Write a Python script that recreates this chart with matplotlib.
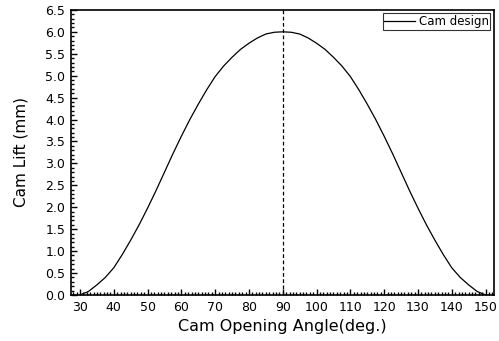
import matplotlib
matplotlib.use("Agg")
import matplotlib.pyplot as plt
from matplotlib.ticker import MultipleLocator

# Cam lift profile (mm) against cam opening angle (deg)
angle = [30, 32.5, 35, 37.5, 40, 42.5, 45, 47.5, 50, 52.5, 55, 57.5, 60,
         62.5, 65, 67.5, 70, 72.5, 75, 77.5, 80, 82.5, 85, 87.5, 90,
         92.5, 95, 97.5, 100, 102.5, 105, 107.5, 110, 112.5, 115, 117.5, 120,
         122.5, 125, 127.5, 130, 132.5, 135, 137.5, 140, 142.5, 145, 147.5, 150]
lift = [0.00, 0.08, 0.23, 0.40, 0.62, 0.92, 1.25, 1.60, 1.98, 2.38, 2.80, 3.22, 3.62,
        4.00, 4.35, 4.68, 4.98, 5.22, 5.42, 5.60, 5.74, 5.86, 5.95, 5.99, 6.00,
        5.99, 5.95, 5.86, 5.74, 5.60, 5.42, 5.22, 4.98, 4.68, 4.35, 4.00, 3.62,
        3.22, 2.80, 2.38, 1.98, 1.60, 1.25, 0.92, 0.62, 0.40, 0.23, 0.08, 0.00]
peak_angle = 90

x_ticks = list(range(30, 151, 10))
y_ticks = [0.0, 0.5, 1.0, 1.5, 2.0, 2.5, 3.0, 3.5, 4.0, 4.5, 5.0, 5.5, 6.0, 6.5]

plt.rcParams['font.family'] = ['DejaVu Sans']

fig = plt.figure(figsize=(4.99, 3.41), dpi=100)
ax = fig.add_axes([0.142, 0.135, 0.848, 0.836])

ax.plot(angle, lift, color='black', lw=0.9, label='Cam design')
ax.axvline(peak_angle, color='black', lw=0.9, ls=(0, (3, 2)))

ax.set_xlim(27.3, 152.5)
ax.set_ylim(0, 6.5)
ax.set_xticks(x_ticks)
ax.set_yticks(y_ticks)
ax.set_yticklabels([f"{v:.1f}" for v in y_ticks])
ax.xaxis.set_minor_locator(MultipleLocator(1))
ax.yaxis.set_minor_locator(MultipleLocator(0.1))
ax.tick_params(which='both', direction='in', top=False, right=False,
               labelsize=9, width=1.0, pad=4)
ax.tick_params(which='major', length=4)
ax.tick_params(which='minor', length=2.5)

for s in ax.spines.values():
    s.set_linewidth(1.2)

ax.set_xlabel('Cam Opening Angle(deg.)', fontsize=11.5, labelpad=4)
ax.set_ylabel('Cam Lift (mm)', fontsize=11, labelpad=12)

leg = ax.legend(loc='upper right', fontsize=8.5, frameon=True, fancybox=False,
                handlelength=2.6, borderpad=0.15, handletextpad=0.3,
                borderaxespad=0.3)
leg.get_frame().set_edgecolor('black')
leg.get_frame().set_linewidth(0.8)

fig.savefig('out.png', dpi=100)
